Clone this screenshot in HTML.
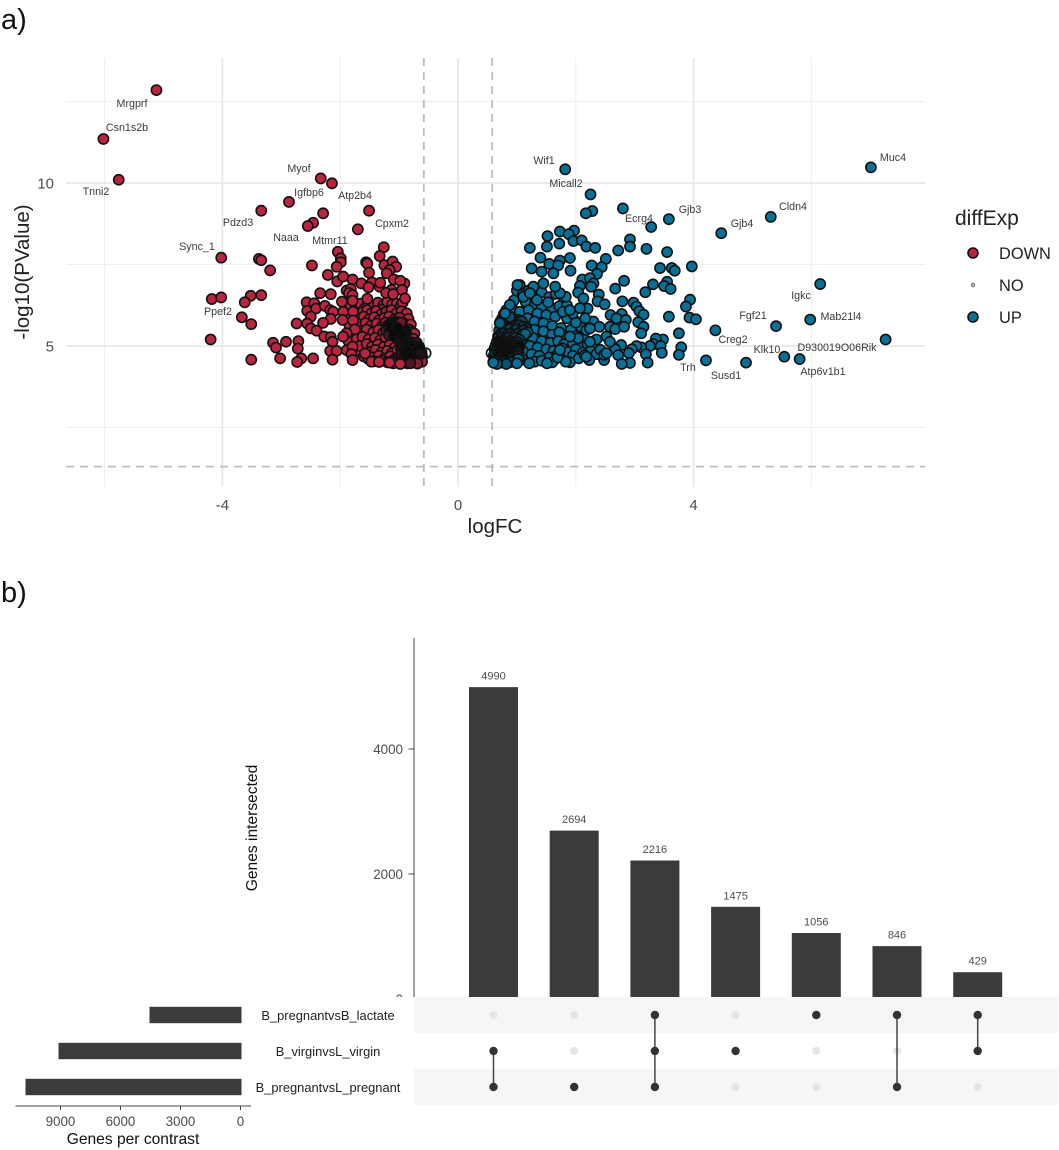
<!DOCTYPE html>
<html lang="en">
<head>
<meta charset="utf-8">
<title>Volcano plot and UpSet plot</title>
<style>
html,body{margin:0;padding:0;background:#fff;}
body{width:1059px;height:1150px;overflow:hidden;}
svg{display:block;font-family:"Liberation Sans",Arial,sans-serif;}
.gene{font-size:10.7px;fill:#3a3a3a;text-anchor:middle;}
</style>
</head>
<body>
<svg id="figure" width="1059" height="1150" viewBox="0 0 1059 1150" xmlns="http://www.w3.org/2000/svg">
  <rect x="0" y="0" width="1059" height="1150" fill="#ffffff"/>
  <text x="1" y="29" font-size="29" fill="#111">a)</text>
  <text x="1" y="602" font-size="29" fill="#111">b)</text>

  <g id="volcano-grid"></g>
  <g id="volcano-thresholds"></g>
  <g id="volcano-ticks"></g>
  <g id="volcano-points"></g>

  <text x="495" y="533" font-size="20.5" fill="#222" text-anchor="middle">logFC</text>
  <text transform="translate(29,272) rotate(-90)" font-size="20.5" fill="#222" text-anchor="middle">-log10(PValue)</text>

  <g>
    <text class="gene" x="132" y="107">Mrgprf</text>
    <text class="gene" x="127" y="131">Csn1s2b</text>
    <text class="gene" x="96" y="195">Tnni2</text>
    <text class="gene" x="299" y="172">Myof</text>
    <text class="gene" x="309" y="196">Igfbp6</text>
    <text class="gene" x="355" y="199">Atp2b4</text>
    <text class="gene" x="238" y="226">Pdzd3</text>
    <text class="gene" x="392" y="227">Cpxm2</text>
    <text class="gene" x="286" y="241">Naaa</text>
    <text class="gene" x="330" y="244">Mtmr11</text>
    <text class="gene" x="197" y="250">Sync_1</text>
    <text class="gene" x="218" y="315">Ppef2</text>
    <text class="gene" x="544" y="164">Wif1</text>
    <text class="gene" x="566" y="187">Micall2</text>
    <text class="gene" x="639" y="222">Ecrg4</text>
    <text class="gene" x="690" y="213">Gjb3</text>
    <text class="gene" x="742" y="227">Gjb4</text>
    <text class="gene" x="793" y="210">Cldn4</text>
    <text class="gene" x="893" y="161">Muc4</text>
    <text class="gene" x="801" y="299">Igkc</text>
    <text class="gene" x="753" y="319">Fgf21</text>
    <text class="gene" x="841" y="320">Mab21l4</text>
    <text class="gene" x="733" y="343">Creg2</text>
    <text class="gene" x="767" y="353">Klk10</text>
    <text class="gene" x="837" y="351">D930019O06Rik</text>
    <text class="gene" x="688" y="371">Trh</text>
    <text class="gene" x="726" y="379">Susd1</text>
    <text class="gene" x="823" y="375">Atp6v1b1</text>
  </g>

  <g>
    <text x="955" y="225" font-size="21" fill="#222">diffExp</text>
    <circle cx="973" cy="253" r="5" fill="#b7253f" stroke="#111" stroke-width="1.6"/>
    <text x="999" y="259" font-size="16.4" fill="#222">DOWN</text>
    <circle cx="973" cy="285" r="1.8" fill="#bbb" stroke="#666" stroke-width="0.8"/>
    <text x="999" y="291" font-size="16.4" fill="#222">NO</text>
    <circle cx="973" cy="317" r="5" fill="#086f97" stroke="#111" stroke-width="1.6"/>
    <text x="999" y="323" font-size="16.4" fill="#222">UP</text>
  </g>

  <text transform="translate(257,828) rotate(-90)" font-size="15.6" fill="#111" text-anchor="middle">Genes intersected</text>
  <g id="upset-bars"></g>
  <g id="upset-axis"></g>
  <rect x="250" y="997" width="164" height="112" fill="#ffffff"/>
  <g id="upset-matrix"></g>
  <g id="set-bars"></g>
  <text x="133" y="1144" font-size="15.6" fill="#111" text-anchor="middle">Genes per contrast</text>
</svg>

<script>
/* ---------- volcano data ---------- */
const xMajorTicks = [-4, 0, 4];
const xMinorTicks = [-6, -2, 2, 6];
const yMajorTicks = [5, 10];
const yMinorTicks = [2.5, 7.5, 12.5];
const fcThresholds = [-0.58, 0.58];
const pThreshold = [1.3];

const noFC = [-0.55, 0.57];
const noP = [4.78, 4.78];

const downFC = [
-1.9,-1.82,-1.74,-1.66,-1.58,-1.5,-1.42,-1.34,-1.26,-1.18,
-1.92,-1.84,-1.76,-1.58,-1.46,-1.37,-1.28,-1.19,-1.11,-1.02,
-1.86,-1.75,-1.63,-1.53,-1.43,-1.33,-1.24,-1.14,-1.04,-0.88,
-1.7,-1.6,-1.52,-1.42,-1.32,-1.22,-1.1,-1.0,-0.9,-0.82,
-1.52,-1.44,-1.36,-1.27,-1.2,-1.12,-1.04,-0.97,-0.94,-1.31,
-1.62,-1.54,-1.47,-1.39,-1.3,-1.22,-1.13,-1.05,-0.96,-0.87,
-1.7,-1.6,-1.51,-1.42,-1.34,-1.25,-1.17,-1.08,-0.99,-0.84,
-1.68,-1.57,-1.48,-1.38,-1.29,-1.23,-1.15,-0.92,-0.87,-0.8,
-1.64,-1.55,-1.44,-1.35,-1.27,-1.2,-0.9,-0.83,-0.78,-0.74,
-1.72,-1.62,-1.52,-1.41,-1.32,-1.23,-1.12,-1.0,-0.92,-0.76,
-1.67,-1.55,-1.46,-1.36,-1.26,-1.16,-1.07,-0.98,-0.7,-0.66,
-1.5,-1.4,-1.3,-1.2,-1.12,-1.03,-1.45,-1.35,-1.25,-1.15,
-1.07,-1.0,-1.42,-1.28,-1.2,-1.13,-1.05,-0.97,-0.92,-0.86,
-1.2,-1.15,-1.1,-1.05,-1.0,-0.95,-1.18,-1.12,-1.07,-1.02,
-0.97,-0.92,-1.22,-1.16,-1.1,-1.04,-0.99,-0.94,-0.89,-1.13,
-1.08,-1.03,-0.98,-0.93,-0.88,-1.17,-1.09,-1.01,-0.96,-0.91,
-1.09,-1.04,-1.0,-0.97,-1.13,-1.06,-1.01,-0.95,-1.08,-1.03,
-0.96,-0.91,-0.86,-0.81,-0.76,-0.71,-0.94,-0.89,-0.84,-0.79,
-0.74,-0.69,-0.97,-0.92,-0.87,-0.82,-0.77,-0.72,-0.67,-0.9,
-0.85,-0.8,-0.75,-0.7,-0.65,-0.62,-0.96,-0.91,-0.86,-0.81,
-0.76,-0.71,-0.66,-0.61,-0.93,-0.88,-0.83,-0.78,-0.73,-0.68,
-0.63,-0.95,-0.9,-0.85,-0.8,-0.75,-0.7,-0.65,-0.61,-0.84,
-0.78,-0.72,-0.66,-0.88,-0.82,-0.76,-0.7,-0.64,-0.79,-0.73,
-5.12,-6.02,-5.76,-2.33,-2.14,-2.87,-3.34,-1.51,-2.29,-2.46,
-2.55,-1.70,-1.26,-2.04,-1.99,-1.99,-2.06,-4.02,-3.38,-3.34,
-3.19,-2.48,-2.21,-2.05,-1.95,-1.79,-1.56,-1.54,-1.33,-1.25,
-1.11,-1.05,-1.16,-1.21,-1.09,-1.51,-1.64,-1.46,-1.52,-1.33,
-1.32,-0.91,-0.98,-0.95,-0.90,-1.13,-1.22,-1.1,-4.18,-4.02,
-3.52,-3.34,-3.62,-2.34,-2.16,-1.89,-1.82,-1.85,-1.79,-1.79,
-1.97,-1.54,-2.57,-2.44,-2.56,-2.41,-2.26,-2.17,-2.12,-2.5,
-2.16,-2.29,-1.95,-1.78,-1.96,-1.78,-2.56,-2.74,-2.5,-2.4,
-3.67,-3.51,-1.75,-1.89,-1.95,-2.27,-2.16,-2.13,-4.2,-3.14,
-3.09,-2.92,-2.71,-2.72,-2.17,-2.06,-1.89,-1.79,-1.81,-3.02,
-2.66,-2.73,-2.46,-3.51,-2.13,-1.79,-1.58,-1.47,-1.34,-1.1,
-0.98,-0.69,-0.81,-1.16
];
const downP = [
6.2,6.24,6.15,6.3,6.16,6.12,6.14,6.2,6.1,6.18,
5.92,5.6,5.4,5.72,5.74,5.6,5.5,5.75,5.82,5.9,
5.15,5.02,5.34,5.12,5.32,5.1,5.36,5.14,5.2,5.2,
4.85,4.68,4.6,4.92,4.75,4.95,4.72,4.82,5.02,5.3,
6.28,6.21,6.33,6.25,6.36,6.27,6.3,6.24,6.33,6.12,
6.04,6.1,6.0,6.07,5.98,6.05,6.1,5.99,6.06,6.0,
5.85,5.9,5.82,5.88,5.79,5.86,5.9,5.82,5.87,5.83,
5.66,5.7,5.62,5.69,5.61,5.72,5.66,5.7,5.62,5.66,
5.46,5.5,5.42,5.49,5.4,5.47,5.43,5.5,5.42,5.38,
5.22,5.28,5.2,5.25,5.18,5.27,5.2,5.26,5.2,5.22,
5.0,5.06,4.98,5.05,4.97,5.03,4.96,5.03,5.1,4.98,
4.82,4.88,4.8,4.85,4.78,4.86,4.65,4.7,4.62,4.68,
4.6,4.66,4.53,4.55,4.5,4.53,4.49,4.55,4.5,4.47,
5.62,5.68,5.6,5.66,5.6,5.64,5.54,5.52,5.57,5.53,
5.56,5.51,5.46,5.44,5.47,5.45,5.48,5.44,5.47,5.38,
5.4,5.37,5.4,5.36,5.39,5.33,5.31,5.32,5.29,5.31,
5.72,5.74,5.7,5.72,5.58,5.52,5.46,5.35,5.43,5.56,
5.1,5.13,5.09,5.12,5.08,5.1,5.0,4.98,5.02,4.99,
5.01,4.98,4.9,4.88,4.91,4.87,4.9,4.88,4.91,4.8,
4.78,4.81,4.78,4.8,4.78,4.81,4.72,4.7,4.71,4.69,
4.71,4.69,4.72,4.69,4.62,4.6,4.63,4.6,4.62,4.59,
4.62,4.53,4.52,4.54,4.52,4.54,4.51,4.53,4.52,4.92,
4.95,4.85,4.94,4.84,4.84,4.75,4.84,4.75,4.66,4.57,
12.85,11.35,10.10,10.14,9.99,9.42,9.15,9.15,9.07,8.78,
8.68,8.58,8.03,7.89,7.69,7.57,7.43,7.71,7.67,7.63,
7.32,7.47,7.18,6.98,7.13,7.04,7.57,7.53,7.76,7.48,
7.59,7.43,7.33,7.23,7.04,7.25,6.92,6.95,6.8,6.82,
6.94,6.92,7.0,6.72,6.46,6.72,6.63,6.59,6.44,6.49,
6.54,6.56,6.34,6.62,6.59,6.7,6.75,6.62,6.56,6.39,
6.36,6.45,6.34,6.31,6.08,6.15,6.23,6.1,6.05,5.9,
5.83,5.71,6.05,6.05,5.8,5.78,5.69,5.69,5.54,5.47,
5.88,5.67,5.51,5.39,5.29,5.29,5.27,5.13,5.2,5.1,
4.95,5.13,5.15,4.92,4.85,4.85,4.87,4.98,4.75,4.62,
4.62,4.51,4.62,4.58,4.58,4.57,4.77,4.52,4.51,4.47,
4.45,4.46,4.47,4.49
];

const upFC = [
0.85,0.92,0.99,1.06,1.13,1.2,1.27,1.34,1.41,0.78,
0.86,0.94,1.01,1.09,1.17,1.24,1.32,1.39,1.47,1.54,
1.2,1.28,1.36,1.44,1.52,1.6,1.68,1.76,1.1,1.05,
1.13,1.2,1.28,1.36,1.45,1.55,1.65,1.75,1.15,1.25,
1.0,1.1,1.2,1.3,1.42,1.55,1.66,1.8,0.95,1.15,
1.3,1.42,1.6,1.72,1.85,0.82,0.93,1.05,1.2,1.35,
1.5,1.65,1.85,2.0,2.2,0.75,0.9,1.02,1.18,1.3,
1.45,1.6,1.75,1.92,2.08,0.72,0.85,1.0,1.15,1.3,
1.45,1.6,1.72,1.85,2.0,2.12,0.68,0.82,0.98,1.12,
1.27,1.42,1.57,1.7,1.8,1.95,2.08,2.2,2.33,0.66,
0.8,0.95,1.08,1.22,1.35,1.5,1.62,1.77,1.87,2.0,
2.12,2.25,2.35,2.42,0.66,0.8,0.95,1.1,1.25,1.38,
1.55,1.68,1.95,2.05,2.15,1.3,1.42,1.6,0.9,1.05,
0.72,0.78,0.84,0.9,0.96,1.02,1.08,0.74,0.8,0.86,
0.92,0.98,1.04,1.1,1.16,0.7,0.76,0.82,0.88,0.94,
1.0,1.06,1.12,1.18,0.72,0.78,0.84,0.9,0.96,1.02,
1.08,1.14,0.68,0.74,0.8,0.86,0.92,0.98,1.04,0.88,
0.66,0.71,0.76,0.81,0.86,0.91,0.96,1.01,0.64,0.69,
0.74,0.79,0.84,0.89,0.94,0.99,1.04,0.62,0.67,0.72,
0.77,0.82,0.87,0.92,0.97,1.02,0.63,0.68,0.73,0.78,
0.83,0.88,0.93,0.98,1.03,0.61,0.66,0.71,0.76,0.81,
0.86,0.91,0.96,1.01,0.62,0.67,0.72,0.77,0.82,0.87,
0.92,0.97,1.02,0.6,0.65,0.7,0.75,0.8,0.85,0.9,
1.82,7.01,2.25,2.28,2.17,2.80,3.58,3.28,5.31,4.47,
1.73,1.97,1.88,1.52,1.96,2.1,1.72,1.51,2.18,2.33,
1.22,2.92,2.92,2.72,3.2,3.55,1.40,1.9,2.51,1.73,
1.55,1.7,2.27,2.44,1.91,1.25,1.42,1.62,2.36,3.43,
3.63,3.68,3.97,6.15,2.82,2.67,3.31,3.55,3.5,3.61,
3.18,2.11,2.24,2.3,2.26,2.07,2.04,2.13,2.39,2.37,
2.49,2.79,2.98,3.03,3.08,3.15,3.94,3.87,3.93,4.04,
3.58,2.59,2.78,2.69,2.85,2.58,2.67,2.82,3.06,3.15,
3.11,3.75,4.37,5.4,5.98,7.26,3.48,3.36,3.32,3.44,
3.79,3.75,3.26,3.11,3.03,2.95,2.9,2.77,2.67,2.72,
3.19,3.46,3.22,2.92,2.78,2.48,2.48,2.52,2.23,2.18,
1.9,1.83,1.69,1.73,1.51,1.21,1.0,0.82,0.66,0.6,
4.21,4.89,5.54,5.8,2.52,2.58,2.35,2.24,2.04,1.9,
2.18,2.3,2.4,2.16,2.24,2.0,1.95,1.78,1.9,2.07,
1.83,1.73,1.65,1.53,1.45,1.28,1.05,1.01,1.11,1.22,
1.34,0.88,0.8,0.71
];
const upP = [
5.95,6.0,5.93,5.98,5.9,5.97,5.88,5.92,5.84,5.98,
5.72,5.68,5.7,5.66,5.72,5.64,5.68,5.6,5.65,5.58,
5.2,5.28,5.18,5.25,5.22,5.26,5.3,5.36,5.2,4.9,
4.98,4.92,5.1,4.85,5.02,5.0,4.6,4.75,4.68,4.6,
6.7,6.6,6.7,6.55,6.65,6.5,6.6,6.45,6.4,6.35,
6.25,6.2,6.15,6.22,6.25,6.1,6.12,6.05,6.1,6.0,
5.95,5.9,5.85,5.75,6.15,5.85,5.88,5.8,5.85,5.75,
5.7,5.62,5.55,5.5,5.6,5.6,5.65,5.55,5.6,5.5,
5.45,5.35,5.42,5.2,5.3,5.28,5.3,5.35,5.3,5.33,
5.25,5.15,5.1,5.15,5.05,5.08,5.0,5.05,4.98,5.1,
5.1,5.05,5.08,5.0,4.95,4.9,4.85,4.93,4.82,4.9,
4.8,4.85,4.75,4.88,4.85,4.88,4.82,4.85,4.75,4.7,
4.65,4.72,4.7,4.62,4.72,4.52,4.55,4.5,4.6,4.55,
5.75,5.8,5.76,5.82,5.77,5.72,5.76,5.62,5.66,5.61,
5.66,5.6,5.64,5.58,5.52,5.48,5.52,5.47,5.51,5.46,
5.5,5.45,5.48,5.42,5.36,5.39,5.35,5.38,5.34,5.38,
5.33,5.37,5.24,5.27,5.22,5.26,5.21,5.25,5.2,5.9,
5.12,5.15,5.11,5.14,5.1,5.13,5.09,5.12,5.02,5.04,
5.01,5.03,5.0,5.02,4.99,5.01,4.98,4.92,4.94,4.9,
4.93,4.89,4.92,4.88,4.91,4.87,4.82,4.8,4.83,4.79,
4.82,4.78,4.81,4.77,4.8,4.72,4.7,4.73,4.69,4.72,
4.68,4.71,4.67,4.7,4.62,4.6,4.63,4.59,4.62,4.58,
4.61,4.57,4.6,4.52,4.5,4.53,4.49,4.52,4.48,4.51,
10.42,10.48,9.65,9.14,9.07,9.22,8.89,8.65,8.96,8.46,
8.51,8.54,8.43,8.37,8.22,8.24,8.14,8.05,8.05,8.01,
8.01,8.27,8.05,7.93,7.98,7.88,7.71,7.7,7.67,7.62,
7.52,7.47,7.47,7.42,7.31,7.38,7.28,7.23,7.21,7.39,
7.39,7.31,7.44,6.9,7.0,6.76,6.89,6.97,6.84,6.75,
6.65,7.04,7.08,6.92,6.82,6.84,6.64,6.46,6.58,6.37,
6.28,6.37,6.33,6.21,6.07,5.96,6.42,6.21,5.87,5.82,
5.9,5.95,5.98,5.85,5.8,5.59,5.52,5.59,5.73,5.59,
5.39,5.39,5.48,5.61,5.81,5.2,5.2,5.23,5.06,5.0,
4.96,4.73,5.0,4.96,5.0,4.9,4.78,5.03,4.9,4.72,
4.75,4.79,4.49,4.48,4.45,4.57,4.73,4.78,4.57,4.67,
4.5,4.52,4.65,4.88,4.47,4.47,4.47,4.45,4.45,4.49,
4.56,4.49,4.67,4.6,5.29,5.13,5.2,5.13,5.24,5.29,
5.49,5.75,5.59,5.85,5.54,5.72,6.0,6.05,6.1,6.16,
6.51,6.62,6.82,6.34,6.92,6.82,6.87,6.87,6.51,6.62,
6.41,6.26,6.0,5.7
];

/* ---------- UpSet data ---------- */
const intersectionSizes = [4990, 2694, 2216, 1475, 1056, 846, 429];
const intersectionTicks = [0, 2000, 4000];
const setNames = ["B_pregnantvsB_lactate", "B_virginvsL_virgin", "B_pregnantvsL_pregnant"];
const setSizes = [4600, 9150, 10800];
const setTicks = [0, 3000, 6000, 9000];
const memberships = [[1,2],[2],[0,1,2],[1],[0],[0,2],[0,1]];

/* ---------- helpers ---------- */
const NS = "http://www.w3.org/2000/svg";
function make(tag, parent, attrs, text) {
  const el = document.createElementNS(NS, tag);
  for (const k in attrs) el.setAttribute(k, attrs[k]);
  if (text !== undefined) el.textContent = text;
  parent.appendChild(el);
  return el;
}
const byId = id => document.getElementById(id);

/* ---------- volcano axis functions ---------- */
const vx = v => 458 + 58.9 * v;
const vy = v => 509 - 32.6 * v;
const panel = {left: 66, right: 925, top: 58, bottom: 487};

const grid = byId("volcano-grid");
xMinorTicks.forEach(t => {
  const el = make("line", grid, {x1: vx(t), x2: vx(t), y1: panel.top, y2: panel.bottom, stroke: "#eeeeee", "stroke-width": 1});
  
  
});
yMinorTicks.forEach(t => {
  const el = make("line", grid, {x1: panel.left, x2: panel.right, y1: vy(t), y2: vy(t), stroke: "#eeeeee", "stroke-width": 1});
  
  
});
xMajorTicks.forEach(t => {
  const el = make("line", grid, {x1: vx(t), x2: vx(t), y1: panel.top, y2: panel.bottom, stroke: "#e8e8e8", "stroke-width": 1.8});
  
  
});
yMajorTicks.forEach(t => {
  const el = make("line", grid, {x1: panel.left, x2: panel.right, y1: vy(t), y2: vy(t), stroke: "#e8e8e8", "stroke-width": 1.8});
  
  
});

const thresholds = byId("volcano-thresholds");
fcThresholds.forEach(t => {
  const el = make("line", thresholds, {x1: vx(t), x2: vx(t), y1: panel.top, y2: panel.bottom, stroke: "#bdbdbd", "stroke-width": 1.8, "stroke-dasharray": "8 6"});
  
  
});
pThreshold.forEach(t => {
  const el = make("line", thresholds, {x1: panel.left, x2: panel.right, y1: vy(t), y2: vy(t), stroke: "#bdbdbd", "stroke-width": 1.8, "stroke-dasharray": "8 6"});
  
  
});

const ticks = byId("volcano-ticks");
xMajorTicks.forEach(t => {
  const el = make("text", ticks, {x: vx(t), y: 510, "font-size": 15, fill: "#4d4d4d", "text-anchor": "middle"}, String(t));
  
  
});
yMajorTicks.forEach(t => {
  const el = make("text", ticks, {x: 54, y: vy(t) + 5.5, "font-size": 15, fill: "#4d4d4d", "text-anchor": "end"}, String(t));
  
  
});

const pointLayer = byId("volcano-points");
/* crowded points darken toward the outline colour, which turns the densest areas near-black */
function shade(rgb, amount) {
  return "rgb(" + rgb.map(c => Math.round(c + (10 - c) * amount)).join(",") + ")";
}
function drawPoints(fc, p, rgb, name) {
  const n = Math.min(fc.length, p.length);
  for (let i = 0; i < n; i++) {
    let near = 0;
    for (let j = 0; j < n; j++) {
      if (j !== i && Math.hypot(vx(fc[i]) - vx(fc[j]), vy(p[i]) - vy(p[j])) < 6) near++;
    }
    const amount = Math.min(1, Math.max(0, (near - 5) / 7));
    const c = make("circle", pointLayer, {cx: vx(fc[i]), cy: vy(p[i]), r: 5.1, fill: shade(rgb, amount), stroke: "#111111", "stroke-width": 1.6});
    
    
  }
}
drawPoints(noFC, noP, [244, 244, 244], "point-no");
drawPoints(downFC, downP, [183, 37, 63], "point-down");
drawPoints(upFC, upP, [8, 111, 151], "point-up");

/* ---------- UpSet axis functions ---------- */
const iy = v => 999 - 0.0625 * v;
const ix = i => 493.5 + 80.7 * i;
const rowY = i => 1015 + 36 * i;
const sx = v => 241.5 - 0.02 * v;
const barColor = "#3b3b3b";

const bars = byId("upset-bars");
intersectionSizes.forEach((v, i) => {
  const b = make("rect", bars, {x: ix(i) - 24.5, y: iy(v), width: 49, height: iy(0) - iy(v), fill: barColor});
  
  
  const t = make("text", bars, {x: ix(i), y: iy(v) - 7.5, "font-size": 11, fill: "#4d4d4d", "text-anchor": "middle"}, String(v));
  
  
});

const uAxis = byId("upset-axis");
const uLine = make("line", uAxis, {x1: 414, x2: 414, y1: 638, y2: 997, stroke: "#444", "stroke-width": 1});


intersectionTicks.forEach(t => {
  const m = make("line", uAxis, {x1: 408.5, x2: 414, y1: iy(t), y2: iy(t), stroke: "#444", "stroke-width": 1});
  
  
  const l = make("text", uAxis, {x: 403, y: iy(t) + 5, "font-size": 13.4, fill: "#4d4d4d", "text-anchor": "end"}, String(t));
  
  
});

const matrix = byId("upset-matrix");
setNames.forEach((name, r) => {
  if (r !== 1) {
    const s = make("rect", matrix, {x: 414, y: rowY(r) - 18, width: 644, height: 36, fill: "#f6f6f6"});
    
    
  }
  const l = make("text", matrix, {x: 328, y: rowY(r) + 5, "font-size": 12.9, fill: "#222", "text-anchor": "middle"}, name);
  
  
});
memberships.forEach((sets, c) => {
  setNames.forEach((_, r) => {
    const d = make("circle", matrix, {cx: ix(c), cy: rowY(r), r: 4, fill: "#e5e5e5"});
    
    
  });
  if (sets.length > 1) {
    const ln = make("line", matrix, {x1: ix(c), x2: ix(c), y1: rowY(Math.min(...sets)), y2: rowY(Math.max(...sets)), stroke: "#444", "stroke-width": 1.5});
    
    
  }
  sets.forEach(r => {
    const d = make("circle", matrix, {cx: ix(c), cy: rowY(r), r: 4.2, fill: "#333333"});
    
    
  });
});

const setLayer = byId("set-bars");
setSizes.forEach((v, r) => {
  const b = make("rect", setLayer, {x: sx(v), y: rowY(r) - 8.2, width: sx(0) - sx(v), height: 16.4, fill: barColor});
  
  
});
const sLine = make("line", setLayer, {x1: 15.5, x2: 251, y1: 1106, y2: 1106, stroke: "#444", "stroke-width": 1});


setTicks.forEach(t => {
  const m = make("line", setLayer, {x1: sx(t) - 1, x2: sx(t) - 1, y1: 1106, y2: 1110, stroke: "#444", "stroke-width": 1});
  
  
  const l = make("text", setLayer, {x: sx(t) - 1, y: 1126, "font-size": 13.4, fill: "#4d4d4d", "text-anchor": "middle"}, String(t));
  
  
});
</script>
</body>
</html>
